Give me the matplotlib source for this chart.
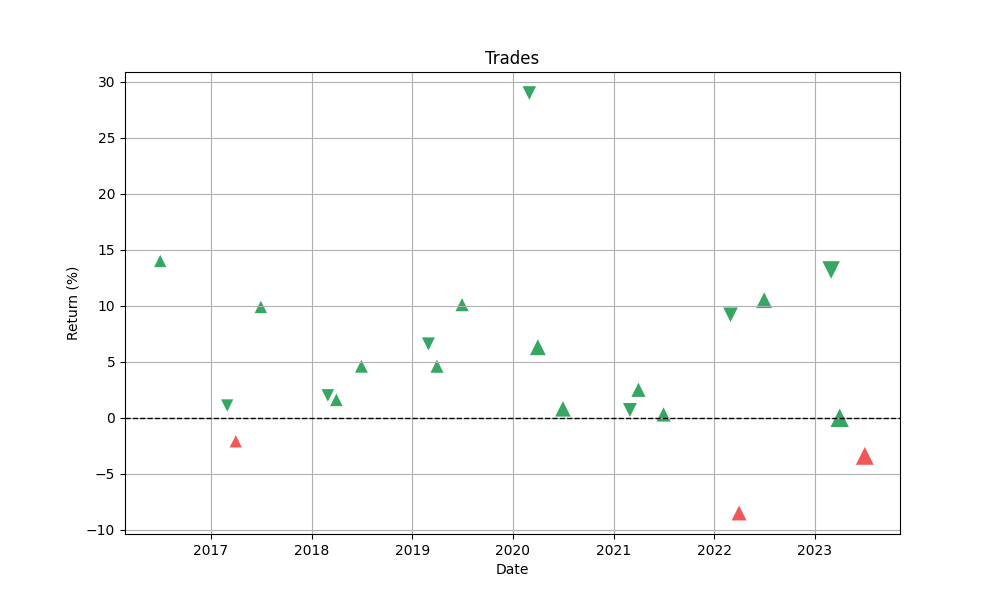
import matplotlib
matplotlib.use("Agg")
import matplotlib.pyplot as plt
import pandas as pd

dates = ["2016-07-01", "2017-03-01", "2017-04-01", "2017-07-01", "2018-03-01",
         "2018-04-01", "2018-07-01", "2019-03-01", "2019-04-01", "2019-07-01",
         "2020-03-01", "2020-04-01", "2020-07-01", "2021-03-01", "2021-04-01",
         "2021-07-01", "2022-03-01", "2022-04-01", "2022-07-01", "2023-03-01",
         "2023-04-01", "2023-07-01"]
returns = [14.0, 1.1, -2.1, 9.9, 2.0, 1.6, 4.6, 6.6, 4.6, 10.1, 29.0, 6.3,
           0.8, 0.7, 2.5, 0.3, 9.2, -8.5, 10.5, 13.2, 0.0, -3.4]
side = ["long", "short", "long", "long", "short", "long", "long", "short", "long", "long",
        "short", "long", "long", "short", "long", "long", "short", "long", "long", "short",
        "long", "long"]
sizes = [78, 78, 78, 80, 82, 82, 85, 88, 88, 90, 95, 130, 125, 100, 105, 105,
         110, 115, 130, 160, 175, 165]

dates = pd.to_datetime(dates)
colors = ['#f04545' if r < 0 else '#1f9e52' for r in returns]

fig, ax = plt.subplots(figsize=(10, 6), dpi=100)
for mk, s_name in (('^', 'long'), ('v', 'short')):
    idx = [i for i, s in enumerate(side) if s == s_name]
    ax.scatter([dates[i] for i in idx], [returns[i] for i in idx],
               marker=mk, s=[sizes[i] for i in idx], c=[colors[i] for i in idx],
               alpha=0.9, linewidths=0)
ax.axhline(0, color='black', linestyle='--', linewidth=1)
ax.set_title('Trades')
ax.set_xlabel('Date')
ax.set_ylabel('Return (%)')
ax.grid(True)
plt.savefig('out.png')
